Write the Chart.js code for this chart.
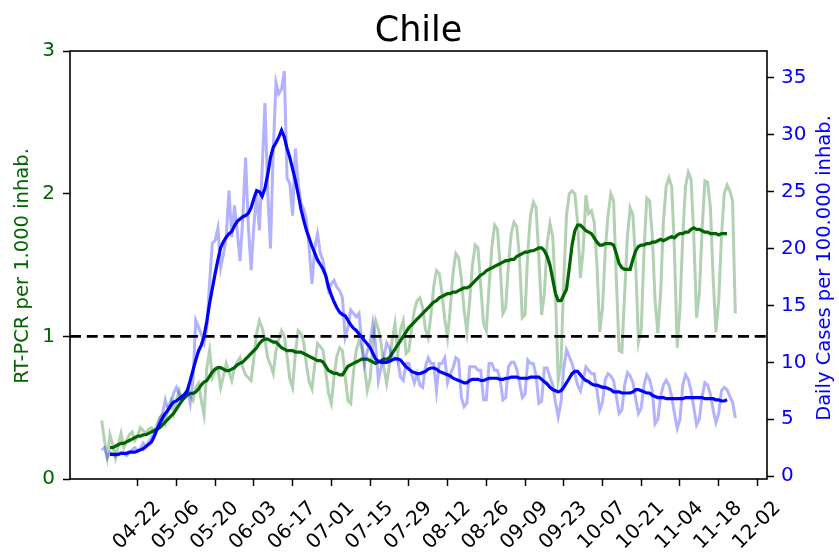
<!DOCTYPE html>
<html>
<head>
<meta charset="utf-8">
<title>Chile</title>
<script src="https://cdn.jsdelivr.net/npm/chart.js@4.4.1/dist/chart.umd.min.js"></script>
<style>
  html, body { margin: 0; padding: 0; background: #ffffff; }
  #wrap { width: 839px; height: 555px; }
</style>
</head>
<body>
<div id="wrap"><canvas id="chart" width="839" height="555"></canvas></div>
<script>
// textos
const TITLE = 'Chile';
const Y1_LABEL = 'RT-PCR per 1.000 inhab.';
const Y2_LABEL = 'Daily Cases per 100.000 inhab.';

// primer dia de la serie (2020-04-09) y desfase de la media movil
const FIRST_DAY = [2020, 4, 9];
const SMOOTH_OFFSET = 3;

const TICK_LABELS = ['04-22', '05-06', '05-20', '06-03', '06-17', '07-01', '07-15', '07-29', '08-12',
    '08-26', '09-09', '09-23', '10-07', '10-21', '11-04', '11-18', '12-02'];
const Y1_TICKS = [0, 1, 2, 3];
const Y2_TICKS = [0, 5, 10, 15, 20, 25, 30, 35];
const REF_LEVEL = 1;

// RT-PCR diarios por 1.000 hab.
const pcrDaily = [
    0.41, 0.27, 0.15, 0.31, 0.24, 0.15, 0.24, 0.32, 0.22, 0.27,
    0.31, 0.33, 0.27, 0.30, 0.36, 0.34, 0.32, 0.35, 0.36, 0.33,
    0.38, 0.43, 0.45, 0.39, 0.50, 0.55, 0.46, 0.55, 0.62, 0.55,
    0.60, 0.63, 0.58, 0.55, 0.64, 0.67, 0.55, 0.45, 0.78, 0.90,
    0.71, 0.76, 0.78, 0.64, 0.72, 0.81, 0.75, 0.69, 0.78, 0.82,
    0.85, 0.78, 0.73, 0.71, 0.69, 0.85, 1.02, 1.11, 1.06, 0.98,
    0.85, 0.80, 0.74, 0.90, 0.98, 1.04, 1.00, 0.86, 0.70, 0.64,
    0.88, 1.04, 1.02, 0.96, 0.80, 0.68, 0.63, 0.80, 0.95, 0.93,
    0.90, 0.75, 0.60, 0.53, 0.72, 0.86, 0.92, 0.90, 0.72, 0.55,
    0.53, 0.75, 0.90, 0.97, 0.92, 0.78, 0.62, 0.70, 0.95, 1.11,
    1.05, 0.95, 0.78, 0.67, 0.80, 0.98, 1.09, 0.88, 1.05, 1.11,
    0.88, 0.90, 1.05, 1.18, 1.25, 1.27, 1.20, 1.05, 0.99, 1.15,
    1.35, 1.46, 1.44, 1.30, 1.12, 0.99, 1.20, 1.45, 1.58, 1.55,
    1.40, 1.18, 1.03, 1.25, 1.50, 1.64, 1.62, 1.35, 1.09, 1.04,
    1.35, 1.62, 1.78, 1.75, 1.50, 1.16, 1.20, 1.50, 1.72, 1.80,
    1.77, 1.55, 1.13, 1.15, 1.60, 1.85, 1.94, 1.90, 1.55, 1.15,
    1.30, 1.65, 1.79, 1.70, 1.30, 0.69, 0.80, 1.40, 1.85, 2.00,
    2.02, 2.00, 1.80, 1.41, 1.60, 1.99, 1.86, 1.88, 1.80, 1.50,
    1.03, 1.20, 1.60, 1.85, 2.00, 1.95, 1.40, 0.90, 0.89, 1.30,
    1.70, 1.90, 1.85, 1.50, 0.96, 1.05, 1.60, 1.97, 1.95, 1.70,
    1.25, 1.02, 1.30, 1.80, 2.05, 2.11, 2.05, 1.60, 0.92, 1.20,
    1.70, 2.05, 2.15, 2.10, 1.70, 1.13, 1.30, 1.75, 2.09, 2.08,
    1.90, 1.40, 1.03, 1.25, 1.70, 2.00, 2.06, 2.02, 1.95, 1.16
];

// casos diarios por 100.000 hab.
const casesDaily = [
    2.3, 2.5, 1.6, 2.1, 1.9, 1.7, 1.9, 2.1, 2.0, 1.8,
    2.0, 2.3, 2.5, 2.2, 2.4, 2.9, 2.6, 3.0, 3.4, 3.8,
    4.2, 5.0, 5.5, 6.7, 5.8, 6.3, 7.3, 7.8, 7.2, 6.7,
    7.0, 7.7, 6.4, 8.4, 13.7, 13.1, 12.5, 11.7, 13.0, 17.0,
    20.5, 20.7, 21.8, 18.3, 19.5, 21.0, 25.1, 21.0, 23.8, 21.5,
    18.9, 22.7, 28.0, 22.0, 18.1, 22.0, 24.8, 21.6, 27.0, 32.8,
    25.0, 20.0, 28.6, 34.6, 33.6, 34.0, 35.6, 26.2, 25.7, 22.9,
    28.8, 25.7, 24.0, 23.5, 22.5, 20.0, 16.9, 20.1, 21.3, 19.6,
    18.9, 17.5, 16.3, 16.9, 17.2, 16.6, 16.3, 15.7, 12.2, 13.1,
    14.6, 14.3, 14.0, 14.3, 11.7, 9.9, 11.0, 11.7, 13.4, 11.5,
    8.4, 9.6, 10.5, 11.7, 11.3, 10.4, 10.4, 10.2, 8.7, 8.4,
    9.9, 9.9, 9.0, 8.2, 9.0, 8.0, 7.8, 9.6, 10.4, 9.9,
    9.9, 7.5, 9.9, 9.9, 10.4, 8.2, 9.0, 9.5, 10.4, 10.2,
    6.9, 6.1, 6.4, 9.6, 9.6, 9.6, 9.3, 9.3, 6.7, 6.7,
    9.9, 9.9, 9.3, 9.3, 8.5, 6.7, 6.9, 9.6, 10.0, 10.0,
    9.4, 8.2, 6.9, 7.2, 10.2, 9.9, 9.9, 8.8, 6.4, 6.6,
    9.5, 9.5, 8.7, 8.0, 6.5, 5.2, 6.5, 9.5, 11.1, 10.5,
    9.9, 9.0, 8.0, 7.5, 8.5, 9.6, 9.3, 9.0, 9.0, 7.5,
    5.8, 6.5, 8.5, 9.0, 8.8, 8.4, 7.0, 5.5, 5.8, 8.0,
    9.1, 8.8, 8.2, 6.8, 5.5, 6.0, 8.0, 8.9, 8.5, 7.5,
    4.6, 5.0, 7.0, 8.0, 8.4, 8.0, 7.0, 5.5, 4.2, 5.0,
    8.0, 8.9, 8.5, 7.5, 6.0, 4.5, 5.0, 7.0, 8.2, 8.0,
    7.2, 5.8, 4.7, 5.5, 7.5, 7.8, 7.6, 7.0, 6.5, 5.1
];

// media movil 7 dias (desde el dia 3)
const pcrSmooth = [
    0.22, 0.22, 0.23, 0.24, 0.25, 0.25, 0.26,
    0.27, 0.28, 0.29, 0.30, 0.30, 0.31, 0.31, 0.32, 0.33, 0.34,
    0.35, 0.36, 0.38, 0.40, 0.42, 0.44, 0.46, 0.49, 0.52, 0.55,
    0.57, 0.59, 0.60, 0.60, 0.61, 0.63, 0.66, 0.68, 0.69, 0.72,
    0.75, 0.77, 0.78, 0.78, 0.77, 0.76, 0.76, 0.77, 0.78, 0.80,
    0.81, 0.82, 0.84, 0.86, 0.88, 0.90, 0.92, 0.95, 0.97, 0.98,
    0.98, 0.97, 0.96, 0.96, 0.94, 0.92, 0.91, 0.90, 0.90, 0.90,
    0.89, 0.89, 0.89, 0.88, 0.87, 0.86, 0.85, 0.84, 0.83, 0.83,
    0.82, 0.79, 0.76, 0.75, 0.74, 0.74, 0.73, 0.73, 0.76, 0.79,
    0.80, 0.81, 0.82, 0.83, 0.84, 0.84, 0.84, 0.83, 0.82, 0.81,
    0.82, 0.83, 0.84, 0.84, 0.85, 0.88, 0.91, 0.94, 0.97, 1.00,
    1.03, 1.06, 1.08, 1.10, 1.12, 1.14, 1.16, 1.18, 1.20, 1.22,
    1.24, 1.25, 1.27, 1.28, 1.29, 1.30, 1.30, 1.31, 1.31, 1.32,
    1.33, 1.34, 1.34, 1.35, 1.37, 1.39, 1.41, 1.43, 1.44, 1.46,
    1.47, 1.48, 1.49, 1.50, 1.51, 1.52, 1.53, 1.53, 1.54, 1.54,
    1.56, 1.57, 1.58, 1.59, 1.59, 1.60, 1.60, 1.61, 1.62, 1.62,
    1.60, 1.56, 1.50, 1.40, 1.30, 1.25, 1.25, 1.29, 1.33, 1.48,
    1.64, 1.74, 1.78, 1.78, 1.76, 1.74, 1.73, 1.72, 1.69, 1.66,
    1.64, 1.64, 1.65, 1.65, 1.65, 1.64, 1.58, 1.51, 1.48, 1.47,
    1.47, 1.47, 1.54, 1.60, 1.63, 1.64, 1.64, 1.65, 1.65, 1.66,
    1.66, 1.67, 1.68, 1.67, 1.68, 1.69, 1.70, 1.69, 1.71, 1.72,
    1.72, 1.73, 1.73, 1.75, 1.76, 1.75, 1.75, 1.74, 1.73, 1.73,
    1.72, 1.72, 1.72, 1.71, 1.72, 1.72, 1.72
];

const casesSmooth = [
    1.9, 1.9, 1.9, 1.9, 2.0, 2.0, 2.0,
    2.1, 2.1, 2.1, 2.2, 2.3, 2.4, 2.6, 2.8, 3.0, 3.5,
    4.1, 4.6, 5.1, 5.5, 5.8, 6.2, 6.5, 6.6, 6.8, 7.0,
    7.2, 7.5, 8.4, 9.3, 10.2, 11.0, 11.5, 12.3, 13.6, 15.2,
    16.5, 17.8, 19.0, 20.1, 20.6, 21.0, 21.3, 21.5, 22.0, 22.4,
    22.6, 22.8, 22.9, 23.1, 23.6, 24.4, 25.1, 25.0, 24.6, 25.3,
    26.5, 28.0, 28.9, 29.3, 29.8, 30.4, 29.8, 28.8, 28.0, 27.0,
    26.0, 24.8, 23.5, 22.5, 21.6, 20.9, 20.2, 19.6, 19.0, 18.6,
    18.2, 17.6, 16.6, 15.9, 15.3, 14.8, 14.4, 14.2, 14.1, 13.7,
    13.3, 13.0, 12.8, 12.5, 12.2, 11.9, 11.6, 11.3, 10.8, 10.3,
    10.1, 10.0, 10.0, 10.0, 10.1, 10.2, 10.3, 10.3, 10.2, 9.9,
    9.6, 9.4, 9.2, 9.1, 9.0, 9.0, 9.1, 9.2, 9.4, 9.5,
    9.5, 9.4, 9.2, 9.1, 9.0, 8.9, 8.8, 8.6, 8.5, 8.4,
    8.3, 8.2, 8.2, 8.4, 8.5, 8.5, 8.5, 8.4, 8.4, 8.5,
    8.6, 8.6, 8.6, 8.6, 8.5, 8.5, 8.6, 8.6, 8.7, 8.7,
    8.7, 8.6, 8.6, 8.6, 8.6, 8.7, 8.7, 8.7, 8.7, 8.5,
    8.3, 8.1, 7.8, 7.6, 7.5, 7.4, 7.5, 7.8, 8.2, 8.6,
    9.0, 9.2, 9.2, 8.9, 8.6, 8.4, 8.3, 8.1, 8.0, 8.0,
    7.9, 7.8, 7.8, 7.7, 7.6, 7.4, 7.4, 7.4, 7.3, 7.3,
    7.3, 7.3, 7.4, 7.6, 7.6, 7.5, 7.4, 7.3, 7.3, 7.1,
    7.0, 6.9, 6.9, 6.9, 6.8, 6.8, 6.8, 6.8, 6.8, 6.8,
    6.8, 6.9, 6.9, 6.9, 6.9, 6.9, 6.9, 6.9, 6.8, 6.8,
    6.8, 6.8, 6.7, 6.7, 6.6, 6.6, 6.7
];

// limites de ejes (margenes al estilo matplotlib)
const X_MARGIN = 0.05 * (pcrDaily.length - 1);
const X_MIN = -X_MARGIN;
const X_MAX = pcrDaily.length - 1 + X_MARGIN;
const Y2_MIN = -0.26;
const Y2_MAX = 37.37;

const FONT = "'DejaVu Sans', 'Liberation Sans', sans-serif";
const TICK_SIZE = 20;
const PCR_COLOR = 'darkgreen';
const CASES_COLOR = 'blue';

function dayOf(label) {
    const [mm, dd] = label.split('-').map(Number);
    const start = Date.UTC(FIRST_DAY[0], FIRST_DAY[1] - 1, FIRST_DAY[2]);
    return Math.round((Date.UTC(FIRST_DAY[0], mm - 1, dd) - start) / 86400000);
}
const tickDays = TICK_LABELS.map(dayOf);

function toPoints(values, offset) {
    return values.map((v, i) => ({ x: i + offset, y: v }));
}

// titulo, marco, etiquetas de ejes y fechas giradas
const decorPlugin = {
    id: 'decor',
    afterDraw(chart) {
        const ctx = chart.ctx;
        const area = chart.chartArea;
        const xScale = chart.scales.x;

        ctx.save();
        ctx.strokeStyle = '#000';
        ctx.lineWidth = 1.6;
        ctx.strokeRect(area.left, area.top, area.right - area.left, area.bottom - area.top);

        ctx.fillStyle = '#000';
        ctx.font = `35px ${FONT}`;
        ctx.textAlign = 'center';
        ctx.textBaseline = 'alphabetic';
        ctx.fillText(TITLE, (area.left + area.right) / 2, 41);

        ctx.font = `19.5px ${FONT}`;
        ctx.save();
        ctx.translate(27.5, 266);
        ctx.rotate(-Math.PI / 2);
        ctx.fillStyle = PCR_COLOR;
        ctx.fillText(Y1_LABEL, 0, 0);
        ctx.restore();

        ctx.save();
        ctx.translate(829.5, 268);
        ctx.rotate(-Math.PI / 2);
        ctx.fillStyle = CASES_COLOR;
        ctx.fillText(Y2_LABEL, 0, 0);
        ctx.restore();

        ctx.font = `${TICK_SIZE}px ${FONT}`;
        ctx.fillStyle = '#000';
        ctx.textAlign = 'right';
        ctx.textBaseline = 'middle';
        TICK_LABELS.forEach((label, i) => {
            const w = ctx.measureText(label).width;
            const px = xScale.getPixelForValue(tickDays[i]);
            ctx.save();
            ctx.translate(px + 0.354 * w - 0.5, 505);
            ctx.rotate(-Math.PI / 4);
            ctx.fillText(label, 0, 0);
            ctx.restore();
        });
        ctx.restore();
    }
};

const tickGrid = {
    display: true,
    drawOnChartArea: false,
    drawTicks: true,
    tickLength: 7,
    tickWidth: 1.5,
    tickColor: '#000'
};

new Chart(document.getElementById('chart'), {
    type: 'line',
    data: {
        datasets: [
            {
                label: 'Casos (media)',
                data: toPoints(casesSmooth, SMOOTH_OFFSET),
                yAxisID: 'y2',
                borderColor: CASES_COLOR,
                borderWidth: 3.2,
                order: 1
            },
            {
                label: 'Casos',
                data: toPoints(casesDaily, 0),
                yAxisID: 'y2',
                borderColor: 'rgba(0, 0, 255, 0.3)',
                borderWidth: 3,
                order: 2
            },
            {
                label: 'Nivel 1',
                data: [{ x: X_MIN, y: REF_LEVEL }, { x: X_MAX, y: REF_LEVEL }],
                yAxisID: 'y',
                borderColor: '#000',
                borderWidth: 2.8,
                borderDash: [11, 5.7],
                order: 3
            },
            {
                label: 'RT-PCR (media)',
                data: toPoints(pcrSmooth, SMOOTH_OFFSET),
                yAxisID: 'y',
                borderColor: PCR_COLOR,
                borderWidth: 3.2,
                order: 4
            },
            {
                label: 'RT-PCR',
                data: toPoints(pcrDaily, 0),
                yAxisID: 'y',
                borderColor: 'rgba(0, 100, 0, 0.3)',
                borderWidth: 3,
                order: 5
            }
        ]
    },
    options: {
        responsive: false,
        animation: false,
        devicePixelRatio: 1,
        layout: { padding: { top: 51, left: 0, right: 0, bottom: 0 } },
        elements: {
            point: { radius: 0 },
            line: { tension: 0, fill: false }
        },
        plugins: {
            legend: { display: false },
            tooltip: { enabled: false },
            title: { display: false }
        },
        scales: {
            x: {
                type: 'linear',
                min: X_MIN,
                max: X_MAX,
                grid: tickGrid,
                border: { display: false },
                ticks: { autoSkip: false, maxRotation: 0, callback: () => '' },
                afterBuildTicks: scale => { scale.ticks = tickDays.map(v => ({ value: v })); },
                afterFit: scale => { scale.height = 76; }
            },
            y: {
                type: 'linear',
                position: 'left',
                min: 0,
                max: 3,
                grid: tickGrid,
                border: { display: false },
                ticks: { color: PCR_COLOR, padding: 8, font: { family: FONT, size: TICK_SIZE } },
                afterBuildTicks: scale => { scale.ticks = Y1_TICKS.map(v => ({ value: v })); },
                afterFit: scale => { scale.width = 70; }
            },
            y2: {
                type: 'linear',
                position: 'right',
                min: Y2_MIN,
                max: Y2_MAX,
                grid: tickGrid,
                border: { display: false },
                ticks: { color: CASES_COLOR, padding: 7, font: { family: FONT, size: TICK_SIZE } },
                afterBuildTicks: scale => { scale.ticks = Y2_TICKS.map(v => ({ value: v })); },
                afterFit: scale => { scale.width = 72; }
            }
        }
    },
    plugins: [decorPlugin]
});
</script>
</body>
</html>
